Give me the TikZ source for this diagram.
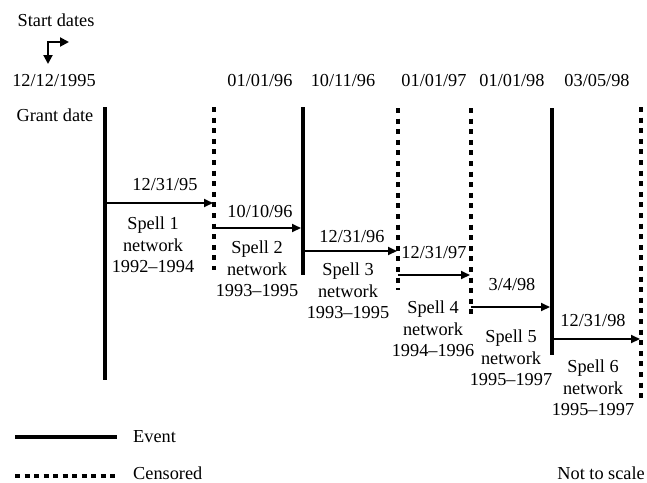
\documentclass[tikz,border=0pt]{standalone}
\usepackage{fontspec}
\setmainfont{Liberation Serif}
\usetikzlibrary{arrows.meta}
\tikzset{
  lbl/.style={inner sep=0pt, font=\fontsize{18.3}{21.5}\selectfont},
  spell/.style={lbl, align=center},
  eventline/.style={line width=4.5pt},
  censline/.style={line width=3.6pt, dash pattern=on 5pt off 5.6pt},
  spellarrow/.style={line width=2pt, -{Triangle[length=9pt,width=8pt]}},
  bentarrow/.style={line width=2pt, {Triangle[length=9pt,width=9pt]}-{Triangle[length=9pt,width=9pt]}}
}
\begin{document}
\begin{tikzpicture}[x=1pt,y=-1pt]
\useasboundingbox (0,0) rectangle (647,482);
% header
\node[lbl] (startdates) at (56,20) {Start dates};
\coordinate (bendA) at (48,64);
\coordinate (bendB) at (48,42);
\coordinate (bendC) at (69,42);
\draw[bentarrow] (bendA) -- (bendB) -- (bendC);
\node[lbl] (d0) at (54,81) {12/12/1995};
\node[lbl] (d1) at (260,81) {01/01/96};
\node[lbl] (d2) at (343,81) {10/11/96};
\node[lbl] (d3) at (434,81) {01/01/97};
\node[lbl] (d4) at (512,81) {01/01/98};
\node[lbl] (d5) at (597,81) {03/05/98};
\node[lbl] (grant) at (55,115) {Grant date};
% vertical lines
\coordinate (t1) at (105,107); \coordinate (b1) at (105,380);
\coordinate (t2) at (214,107); \coordinate (b2) at (214,270);
\coordinate (t3) at (303,107); \coordinate (b3) at (303,275);
\coordinate (t4) at (398,108); \coordinate (b4) at (398,290);
\coordinate (t5) at (471,108); \coordinate (b5) at (471,317);
\coordinate (t6) at (552,108); \coordinate (b6) at (552,355);
\coordinate (t7) at (641,107); \coordinate (b7) at (641,400);
\draw[eventline] (t1) -- (b1);
\draw[censline] (t2) -- (b2);
\draw[eventline] (t3) -- (b3);
\draw[censline] (t4) -- (b4);
\draw[censline] (t5) -- (b5);
\draw[eventline] (t6) -- (b6);
\draw[censline] (t7) -- (b7);
% arrows
\coordinate (s1) at (105,203); \coordinate (e1) at (213,203);
\coordinate (s2) at (214,228); \coordinate (e2) at (301,228);
\coordinate (s3) at (303,251); \coordinate (e3) at (397,251);
\coordinate (s4) at (398,275); \coordinate (e4) at (470,275);
\coordinate (s5) at (471,307); \coordinate (e5) at (550,307);
\coordinate (s6) at (552,339); \coordinate (e6) at (640,339);
\draw[spellarrow] (s1) -- (e1);
\draw[spellarrow] (s2) -- (e2);
\draw[spellarrow] (s3) -- (e3);
\draw[spellarrow] (s4) -- (e4);
\draw[spellarrow] (s5) -- (e5);
\draw[spellarrow] (s6) -- (e6);
% arrow labels
\node[lbl] (l1) at (165,185) {12/31/95};
\node[lbl] (l2) at (260,211) {10/10/96};
\node[lbl] (l3) at (352,237) {12/31/96};
\node[lbl] (l4) at (434,253) {12/31/97};
\node[lbl] (l5) at (512,284) {3/4/98};
\node[lbl] (l6) at (593,320) {12/31/98};
% spells
\node[spell] (sp1) at (153,245) {Spell 1\\network\\1992--1994};
\node[spell] (sp2) at (257,269) {Spell 2\\network\\1993--1995};
\node[spell] (sp3) at (348,291) {Spell 3\\network\\1993--1995};
\node[spell] (sp4) at (433,329) {Spell 4\\network\\1994--1996};
\node[spell] (sp5) at (511,358) {Spell 5\\network\\1995--1997};
\node[spell] (sp6) at (593,388) {Spell 6\\network\\1995--1997};
% legend
\coordinate (ev1) at (15,437); \coordinate (ev2) at (117,437);
\draw[eventline] (ev1) -- (ev2);
\node[lbl, anchor=west] (evtext) at (133,437) {Event};
\coordinate (ce1) at (15,476); \coordinate (ce2) at (117,476);
\draw[line width=4.5pt, dash pattern=on 5pt off 4.5pt] (ce1) -- (ce2);
\node[lbl, anchor=west] (cetext) at (133,473) {Censored};
\node[lbl, anchor=east] (nts) at (645,473) {Not to scale};
\end{tikzpicture}
\end{document}
